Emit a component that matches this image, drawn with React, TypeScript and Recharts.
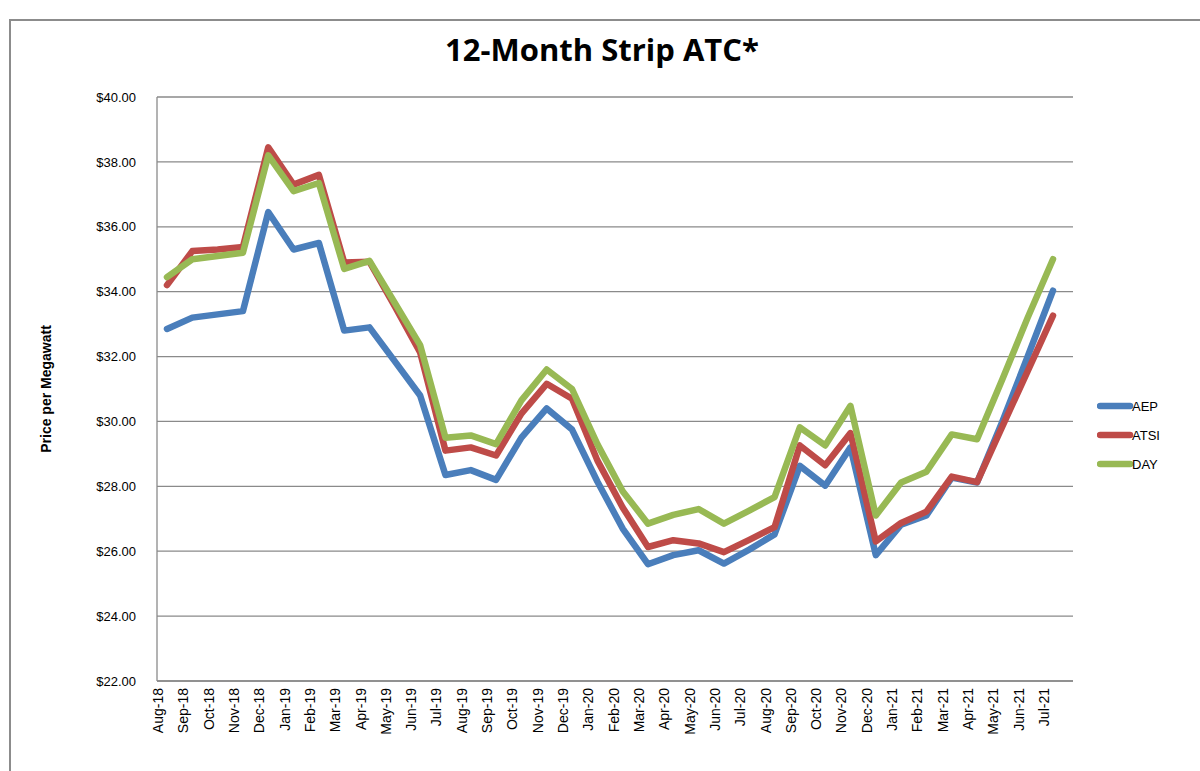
import React from 'react';
import { LineChart, Line, XAxis, YAxis, CartesianGrid, Legend } from 'recharts';

const months = [
  'Aug-18', 'Sep-18', 'Oct-18', 'Nov-18', 'Dec-18', 'Jan-19', 'Feb-19', 'Mar-19', 'Apr-19',
  'May-19', 'Jun-19', 'Jul-19', 'Aug-19', 'Sep-19', 'Oct-19', 'Nov-19', 'Dec-19', 'Jan-20',
  'Feb-20', 'Mar-20', 'Apr-20', 'May-20', 'Jun-20', 'Jul-20', 'Aug-20', 'Sep-20', 'Oct-20',
  'Nov-20', 'Dec-20', 'Jan-21', 'Feb-21', 'Mar-21', 'Apr-21', 'May-21', 'Jun-21', 'Jul-21',
];

const aep = [
  32.85, 33.2, 33.3, 33.4, 36.45, 35.3, 35.5, 32.8, 32.9,
  31.85, 30.8, 28.35, 28.5, 28.2, 29.5, 30.4, 29.75, 28.15,
  26.7, 25.6, 25.88, 26.03, 25.62, 26.05, 26.52, 28.63, 28.02,
  29.2, 25.88, 26.82, 27.1, 28.27, 28.12, 30.0, 32.0, 34.03,
];

const atsi = [
  34.2, 35.25, 35.3, 35.38, 38.45, 37.3, 37.6, 34.9, 34.92,
  33.55, 32.13, 29.1, 29.2, 28.95, 30.24, 31.16, 30.7, 28.8,
  27.35, 26.13, 26.34, 26.24, 25.97, 26.35, 26.74, 29.26, 28.65,
  29.64, 26.3, 26.87, 27.22, 28.3, 28.13, 29.85, 31.55, 33.26,
];

const day = [
  34.45, 35.0, 35.1, 35.2, 38.2, 37.1, 37.35, 34.7, 34.95,
  33.65, 32.35, 29.5, 29.57, 29.3, 30.65, 31.6, 31.0, 29.3,
  27.85, 26.85, 27.12, 27.3, 26.85, 27.25, 27.67, 29.82, 29.26,
  30.48, 27.1, 28.12, 28.45, 29.6, 29.45, 31.3, 33.2, 35.0,
];

const yTicks = [22, 24, 26, 28, 30, 32, 34, 36, 38, 40];

const seriesNames = ['AEP', 'ATSI', 'DAY'];
const seriesColors = ['#4a7ebb', '#be4b48', '#98b954'];

const data = months.map((m, i) => ({ month: m, AEP: aep[i], ATSI: atsi[i], DAY: day[i] }));

const TICK_FONT = '"Liberation Sans", Arial, sans-serif';

const XTick = (props: any) => {
  const { x, y, payload } = props;
  return (
    <text
      x={x}
      y={y}
      dy={-4}
      transform={`rotate(-90 ${x} ${y})`}
      textAnchor="end"
      fontFamily={TICK_FONT}
      fontSize={14}
      fill="#000"
    >
      {payload.value}
    </text>
  );
};

const LegendContent = () => (
  <svg width={100} height={100} style={{ display: 'block' }}>
    {seriesNames.map((name, i) => {
      const cy = 14 + i * 29;
      return (
        <g key={name}>
          <line x1={3} y1={cy} x2={33} y2={cy} stroke={seriesColors[i]} strokeWidth={6.5} strokeLinecap="round" />
          <text x={35} y={cy} dy="0.35em" fontFamily={TICK_FONT} fontSize={13} fill="#000">
            {name}
          </text>
        </g>
      );
    })}
  </svg>
);

export default function App() {
  return (
    <div style={{ position: 'absolute', left: 0, top: 0, width: 1200, height: 771, background: '#fff', overflow: 'hidden' }}>
      <LineChart
        width={1200}
        height={771}
        data={data}
        margin={{ top: 97, right: 127, bottom: 0, left: 17 }}
      >
        <CartesianGrid horizontal vertical={false} stroke="#8a8a8a" strokeWidth={1.3} />
        <XAxis
          dataKey="month"
          interval={0}
          height={90}
          padding={{ left: 10, right: 20 }}
          tickLine={false}
          tickSize={0}
          tickMargin={7}
          axisLine={{ stroke: '#8a8a8a', strokeWidth: 1.3 }}
          tick={<XTick />}
        />
        <YAxis
          domain={[22, 40]}
          ticks={yTicks}
          width={140}
          tickLine={false}
          tickSize={0}
          tickMargin={21}
          axisLine={{ stroke: '#8a8a8a', strokeWidth: 1.3 }}
          tickFormatter={(v: number) => `$${v.toFixed(2)}`}
          tick={{ fontFamily: TICK_FONT, fontSize: 13, fill: '#000' }}
        />
        <Legend
          layout="vertical"
          align="center"
          verticalAlign="middle"
          content={<LegendContent />}
          wrapperStyle={{ position: 'absolute', left: 1097, top: 392, width: 100, height: 100 }}
        />
        {seriesNames.map((name, i) => (
          <Line
            key={name}
            type="linear"
            dataKey={name}
            stroke={seriesColors[i]}
            strokeWidth={6.5}
            strokeLinejoin="round"
            strokeLinecap="round"
            dot={false}
            activeDot={false}
            isAnimationActive={false}
          />
        ))}
      </LineChart>
      <svg
        width={1200}
        height={771}
        style={{ position: 'absolute', left: 0, top: 0, pointerEvents: 'none' }}
      >
        <rect x={10} y={20} width={1200} height={800} fill="none" stroke="#8c8c8c" strokeWidth={2} />
        <text
          x={602}
          y={61}
          textAnchor="middle"
          fontFamily='"Open Sans", sans-serif'
          fontWeight="bold"
          fontSize={31}
          fill="#000"
        >
          12-Month Strip ATC*
        </text>
        <text
          x={46}
          y={389}
          transform="rotate(-90 46 389)"
          textAnchor="middle"
          dominantBaseline="central"
          fontFamily={TICK_FONT}
          fontWeight="bold"
          fontSize={14}
          fill="#000"
        >
          Price per Megawatt
        </text>
      </svg>
    </div>
  );
}
